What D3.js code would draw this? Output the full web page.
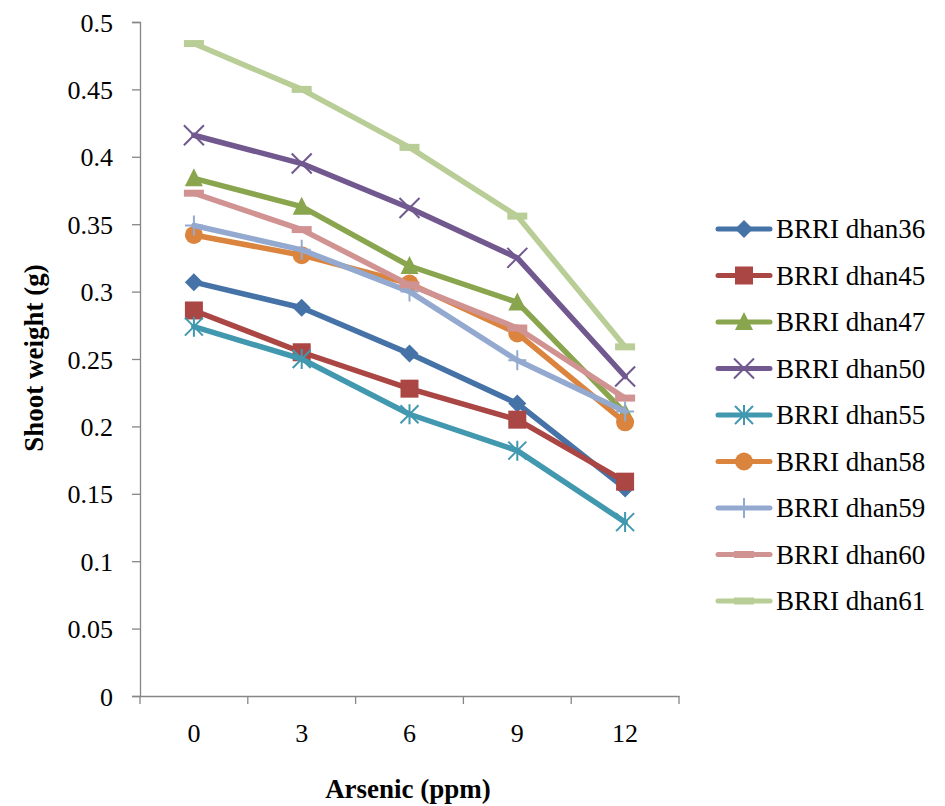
<!DOCTYPE html>
<html>
<head>
<meta charset="utf-8">
<script src="https://cdn.jsdelivr.net/npm/d3@7"></script>
<style>
  body{margin:0;background:#fff;}
  text{font-family:"Liberation Serif","Times New Roman",serif;fill:#000;}
</style>
</head>
<body>
<svg id="chart" width="945" height="806"></svg>
<script>
// data
const doses = ['0','3','6','9','12'];
const varieties = ['BRRI dhan36','BRRI dhan45','BRRI dhan47','BRRI dhan50','BRRI dhan55','BRRI dhan58','BRRI dhan59','BRRI dhan60','BRRI dhan61'];
const dhan36 = [0.307, 0.288, 0.254, 0.217, 0.154];
const dhan45 = [0.286, 0.255, 0.228, 0.205, 0.159];
const dhan47 = [0.384, 0.363, 0.319, 0.292, 0.210];
const dhan50 = [0.416, 0.395, 0.362, 0.325, 0.237];
const dhan55 = [0.274, 0.250, 0.209, 0.182, 0.129];
const dhan58 = [0.342, 0.327, 0.306, 0.269, 0.203];
const dhan59 = [0.349, 0.331, 0.300, 0.249, 0.211];
const dhan60 = [0.373, 0.346, 0.305, 0.273, 0.221];
const dhan61 = [0.484, 0.450, 0.407, 0.356, 0.259];
const yTicks = [0,0.05,0.1,0.15,0.2,0.25,0.3,0.35,0.4,0.45,0.5];

const seriesVals = [dhan36,dhan45,dhan47,dhan50,dhan55,dhan58,dhan59,dhan60,dhan61];
const colors = ['#4572A7','#AA4643','#89A54E','#71588F','#4198AF','#DB843D','#93A9CF','#D19392','#B9CD96'];
const shapes = ['diamond','square','triangle','x','star','circle','plus','dash','dash'];

const svg = d3.select('#chart');
const L=140, R=679, T=22, B=696;
const x = d3.scaleBand().domain(doses).range([L,R]);
const y = d3.scaleLinear().domain([0,0.5]).range([B,T]);
const axisCol = '#868686';
const FONT = '"Liberation Serif","Times New Roman",serif';

// y axis
const gy = svg.append('g').attr('transform',`translate(${L},0)`)
  .call(d3.axisLeft(y).tickValues(yTicks).tickSize(8).tickPadding(19).tickFormat(d=>String(+d.toFixed(2))));
gy.select('.domain').attr('stroke',axisCol).attr('stroke-width',1.3);
gy.selectAll('.tick line').attr('stroke',axisCol).attr('stroke-width',1.3);
gy.selectAll('.tick text').style('font-family',FONT).style('font-size','26px').attr('fill','#000').attr('dy','0.35em');

// x axis
const gx = svg.append('g').attr('transform',`translate(0,${B})`)
  .call(d3.axisBottom(x).tickSize(0).tickPadding(28));
gx.select('.domain').attr('stroke',axisCol).attr('stroke-width',1.3);
gx.selectAll('.tick text').style('font-family',FONT).style('font-size','26px').attr('fill','#000');
const bounds = doses.map(d=>x(d)).concat([R]);
gx.selectAll('.bnd').data(bounds).enter().append('line')
  .attr('x1',d=>d).attr('x2',d=>d).attr('y1',0).attr('y2',8)
  .attr('stroke',axisCol).attr('stroke-width',1.3);

// axis titles
svg.append('text').attr('x',408).attr('y',798).attr('text-anchor','middle')
  .style('font-size','27px').style('font-weight','bold').text('Arsenic (ppm)');
svg.append('text').attr('transform','translate(43,358) rotate(-90)').attr('text-anchor','middle')
  .style('font-size','27px').style('font-weight','bold').text('Shoot weight (g)');

// marker drawing
function marker(g, shape, col){
  const s = 7;
  if(shape==='diamond') g.append('path').attr('d',`M0,${-s-2}L${s+2},0L0,${s+2}L${-s-2},0Z`).attr('fill',col);
  else if(shape==='square') g.append('rect').attr('x',-s-2).attr('y',-s-2).attr('width',2*s+4).attr('height',2*s+4).attr('fill',col);
  else if(shape==='triangle') g.append('path').attr('d',`M0,${-s-3}L${s+2},${s+1}L${-s-2},${s+1}Z`).attr('fill',col);
  else if(shape==='circle') g.append('circle').attr('r',s+2).attr('fill',col);
  else if(shape==='x') g.append('path').attr('d',`M${-s-3},${-s-3}L${s+3},${s+3}M${-s-3},${s+3}L${s+3},${-s-3}`).attr('stroke',col).attr('stroke-width',2);
  else if(shape==='star') g.append('path').attr('d',`M${-s-2},${-s-2}L${s+2},${s+2}M${-s-2},${s+2}L${s+2},${-s-2}M0,${-s-3}L0,${s+3}`).attr('stroke',col).attr('stroke-width',2);
  else if(shape==='plus') g.append('path').attr('d',`M0,${-s-3}L0,${s+3}M${-s-2},0L${s+2},0`).attr('stroke',col).attr('stroke-width',2);
  else if(shape==='dash') g.append('rect').attr('x',-10).attr('y',-3.5).attr('width',20).attr('height',7).attr('fill',col);
}

const line = d3.line().x((d,i)=>x(doses[i])+x.bandwidth()/2).y(d=>y(d));
const plot = svg.append('g');
seriesVals.forEach((vals,k)=>{
  const g = plot.append('g');
  g.append('path').attr('d',line(vals)).attr('fill','none').attr('stroke',colors[k])
    .attr('stroke-width',5.5).attr('stroke-linejoin','round').attr('stroke-linecap','round');
  vals.forEach((v,i)=>{
    const m = g.append('g').attr('transform',`translate(${x(doses[i])+x.bandwidth()/2},${y(v)})`);
    marker(m, shapes[k], colors[k]);
  });
});

// legend
const leg = svg.append('g');
varieties.forEach((name,k)=>{
  const yy = 229 + k*46.5;
  const g = leg.append('g').attr('transform',`translate(0,${yy})`);
  g.append('line').attr('x1',718).attr('x2',770).attr('y1',0).attr('y2',0)
    .attr('stroke',colors[k]).attr('stroke-width',5).attr('stroke-linecap','round');
  const m = g.append('g').attr('transform','translate(744,0)');
  marker(m, shapes[k], colors[k]);
  g.append('text').attr('x',776).attr('y',9).style('font-size','27px').text(name);
});
</script>
</body>
</html>
